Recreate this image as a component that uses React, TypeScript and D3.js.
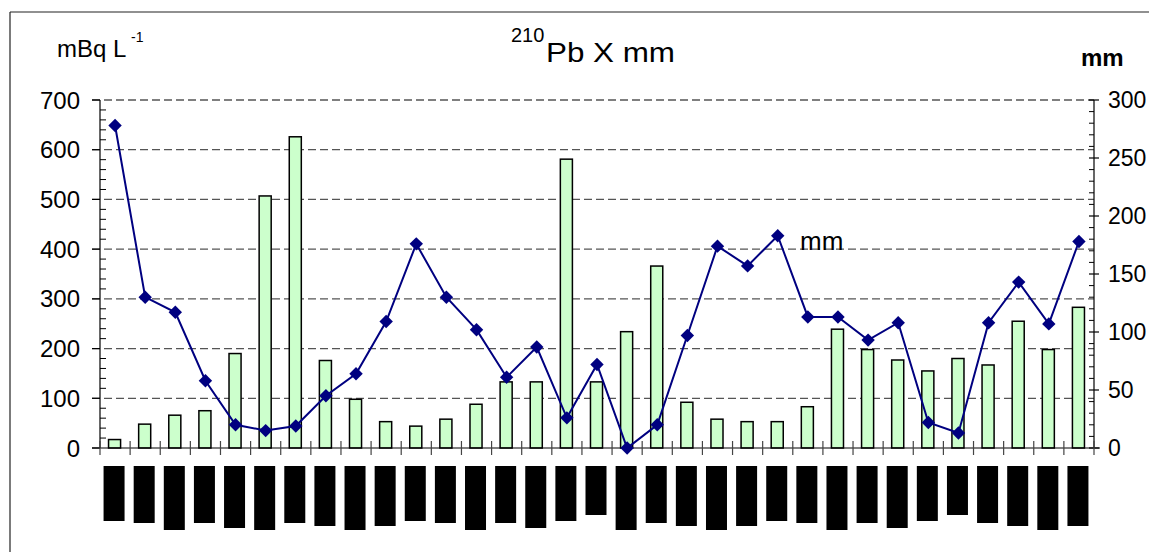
import React from 'react';
import * as d3 from 'd3';

// 210Pb activity (bars, left axis) and rainfall (line, right axis)
const categories = d3.range(1, 34).map(String);
const pb210 = [17, 48, 66, 75, 190, 507, 626, 176, 98, 53, 44, 58, 88, 133, 133, 581, 133,
  234, 366, 92, 58, 53, 53, 83, 239, 198, 177, 155, 180, 167, 255, 198, 283];
const rainMm = [278, 130, 117, 58, 20, 15, 19, 45, 64, 109, 176, 130, 102, 61, 87, 26, 72,
  0, 20, 97, 174, 157, 183, 113, 113, 93, 108, 22, 13, 108, 143, 107, 178];
// length of the (blacked out) category labels
const labelLength = [55, 57, 64, 57, 62, 64, 57, 60, 64, 60, 55, 57, 64, 57, 62, 55, 49,
  64, 57, 60, 64, 60, 55, 57, 64, 57, 62, 55, 49, 57, 60, 64, 60];
const leftTicks = [0, 100, 200, 300, 400, 500, 600, 700];
const rightTicks = [0, 50, 100, 150, 200, 250, 300];

const FONT = '"Liberation Sans", Arial, sans-serif';

export default function App() {
  const W = 1149, H = 552;
  const left = 100, right = 1094, top = 100, bottom = 448;

  const x = d3.scaleBand().domain(categories).range([left, right]);
  const yL = d3.scaleLinear().domain([0, 700]).range([bottom, top]);
  const yR = d3.scaleLinear().domain([0, 300]).range([bottom, top]);
  const lab = d3.scaleLinear().domain([0, 64]).range([0, 64]);

  const bw = x.bandwidth();
  const barW = bw * 0.4;
  const cx = (i: number) => (x(categories[i]) as number) + bw / 2;

  const line = d3.line<number>()
    .x((_, i) => cx(i))
    .y(d => yR(d));
  const diamond = d3.symbol(d3.symbolSquare, 90)();

  const leftMinor = d3.range(0, 701, 20).filter(v => v % 100 !== 0);
  const rightMinor = d3.range(0, 301, 10).filter(v => v % 50 !== 0);
  const catTicks = d3.range(categories.length + 1).map(i => left + i * x.step());

  return (
    <svg width={W} height={H} style={{ position: 'absolute', left: 0, top: 0, background: '#fff' }}
      fontFamily={FONT}>
      {/* frame */}
      <line x1={10} y1={12} x2={W} y2={12} stroke="#222" strokeWidth={1.2} />
      <line x1={10} y1={12} x2={10} y2={H} stroke="#222" strokeWidth={1.2} />

      {/* titles */}
      <text x={57} y={57} fontSize={24} fill="#000">mBq L</text>
      <text x={131} y={42} fontSize={14} fill="#000">-1</text>
      <text x={511} y={42} fontSize={20} fill="#000">210</text>
      <text x={546} y={62} fontSize={27} fill="#000" textLength={129} lengthAdjust="spacingAndGlyphs">Pb X mm</text>
      <text x={1081} y={66} fontSize={24} fontWeight="bold" fill="#000">mm</text>

      {/* gridlines */}
      {leftTicks.filter(v => v > 0).map(v => (
        <line key={'g' + v} x1={left - 8} x2={right} y1={yL(v)} y2={yL(v)}
          stroke="#555" strokeWidth={1.3} strokeDasharray="8,4" />
      ))}

      {/* bars */}
      {pb210.map((v, i) => (
        <rect key={'b' + i} x={cx(i) - barW / 2 - 0.5} y={yL(v)} width={barW} height={bottom - yL(v)}
          fill="#CCFFCC" stroke="#000" strokeWidth={1.5} />
      ))}

      {/* left axis */}
      <line x1={left} x2={left} y1={top} y2={bottom} stroke="#000" strokeWidth={1.2} />
      {leftTicks.map(v => (
        <g key={'l' + v}>
          <line x1={left - 8} x2={left} y1={yL(v)} y2={yL(v)} stroke="#000" strokeWidth={1.2} />
          <text x={80} y={yL(v)} dy="0.36em" textAnchor="end" fontSize={24}>{v}</text>
        </g>
      ))}
      {leftMinor.map(v => (
        <line key={'lm' + v} x1={left} x2={left + 6} y1={yL(v)} y2={yL(v)} stroke="#000" strokeWidth={1} />
      ))}

      {/* right axis */}
      <line x1={right} x2={right} y1={top} y2={bottom} stroke="#000" strokeWidth={1.2} />
      {rightTicks.map(v => (
        <g key={'r' + v}>
          <line x1={right - 5} x2={right + 5} y1={yR(v)} y2={yR(v)} stroke="#000" strokeWidth={1.2} />
          <text x={1108} y={yR(v)} dy="0.36em" fontSize={23}>{v}</text>
        </g>
      ))}
      {rightMinor.map(v => (
        <line key={'rm' + v} x1={right - 5} x2={right} y1={yR(v)} y2={yR(v)} stroke="#000" strokeWidth={1} />
      ))}

      {/* category axis */}
      <line x1={left - 8} x2={right + 6} y1={bottom} y2={bottom} stroke="#000" strokeWidth={1.2} />
      {catTicks.map((t, i) => (
        <line key={'c' + i} x1={t} x2={t} y1={bottom - 7} y2={bottom + 7} stroke="#444" strokeWidth={1.2} />
      ))}
      {labelLength.map((v, i) => (
        <rect key={'k' + i} x={cx(i) - 11.5} y={466} width={21} height={lab(v)} fill="#000" />
      ))}

      {/* rainfall line */}
      <path d={line(rainMm) || ''} fill="none" stroke="#000080" strokeWidth={2} />
      {rainMm.map((v, i) => (
        <path key={'d' + i} d={diamond || ''} transform={`translate(${cx(i)},${yR(v)}) rotate(45)`} fill="#000080" />
      ))}
      <text x={800} y={250} fontSize={26} fill="#000">mm</text>
    </svg>
  );
}
